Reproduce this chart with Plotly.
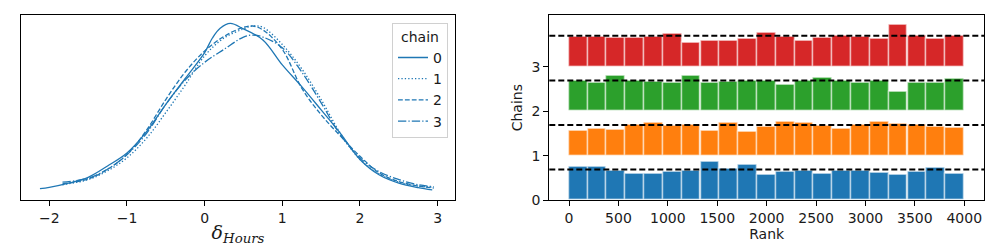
import plotly.graph_objects as go

# ---------------- data: KDE of delta_Hours per chain ----------------
kde_x0 = [-2.12, -2.0, -1.75, -1.5, -1.25, -1.0, -0.75, -0.5, -0.25, 0.0, 0.1, 0.2, 0.33, 0.5,
          0.75, 1.0, 1.25, 1.5, 1.75, 2.0, 2.25, 2.5, 2.75, 2.93]
kde_y0 = [0.010, 0.014, 0.027, 0.045, 0.080, 0.120, 0.185, 0.270, 0.350, 0.430, 0.475, 0.505, 0.520, 0.503,
          0.469, 0.392, 0.325, 0.253, 0.180, 0.100, 0.052, 0.027, 0.013, 0.006]

kde_x = [-1.83, -1.5, -1.25, -1.0, -0.75, -0.5, -0.25, 0.0, 0.25, 0.5, 0.62, 0.75, 1.0, 1.25, 1.5,
         1.75, 2.0, 2.25, 2.5, 2.75, 2.95]
kde_y1 = [0.022, 0.038, 0.065, 0.105, 0.165, 0.245, 0.330, 0.420, 0.475, 0.503, 0.512, 0.508, 0.455,
          0.380, 0.285, 0.180, 0.100, 0.055, 0.030, 0.018, 0.014]
kde_y2 = [0.025, 0.040, 0.070, 0.115, 0.190, 0.285, 0.370, 0.435, 0.480, 0.508, 0.512, 0.500, 0.440,
          0.320, 0.238, 0.172, 0.110, 0.058, 0.032, 0.018, 0.012]
kde_y3 = [0.030, 0.042, 0.070, 0.115, 0.180, 0.270, 0.345, 0.400, 0.440, 0.478, 0.484, 0.478, 0.445,
          0.370, 0.275, 0.175, 0.105, 0.062, 0.038, 0.022, 0.016]

chains = ["0", "1", "2", "3"]

# ---------------- data: rank histogram ----------------
rank_centers = [95, 286, 476, 667, 857, 1048, 1238, 1429, 1619, 1810, 2000,
                2190, 2381, 2571, 2762, 2952, 3143, 3333, 3524, 3714, 3905]
rank_bin_width = 190.5
rank_h0 = [0.749, 0.749, 0.659, 0.591, 0.591, 0.636, 0.659, 0.861, 0.704, 0.793, 0.569,
           0.636, 0.659, 0.591, 0.659, 0.659, 0.614, 0.569, 0.636, 0.726, 0.591]
rank_h1 = [0.546, 0.591, 0.569, 0.681, 0.726, 0.659, 0.681, 0.546, 0.726, 0.524, 0.636,
           0.749, 0.726, 0.659, 0.591, 0.681, 0.749, 0.704, 0.681, 0.636, 0.614]
rank_h2 = [0.674, 0.636, 0.793, 0.689, 0.666, 0.636, 0.793, 0.636, 0.666, 0.681, 0.689,
           0.591, 0.674, 0.749, 0.689, 0.636, 0.674, 0.434, 0.636, 0.636, 0.719]
rank_h3 = [0.666, 0.674, 0.644, 0.644, 0.674, 0.726, 0.524, 0.576, 0.576, 0.621, 0.749,
           0.666, 0.576, 0.644, 0.689, 0.674, 0.621, 0.928, 0.681, 0.621, 0.696]
rank_base = [0, 1, 2, 3]
rank_ref = [0.69, 1.69, 2.69, 3.695]
x_ticks_left = [-2, -1, 0, 1, 2, 3]
x_ticks_right = [0, 500, 1000, 1500, 2000, 2500, 3000, 3500, 4000]
y_ticks_right = [0, 1, 2, 3]

# ---------------- figure ----------------
blue = "#1f77b4"
bar_colors = ["#1f77b4", "#ff7f0e", "#2ca02c", "#d62728"]
dashes = ["solid", "1.3px,2.1px", "4.8px,2.1px", "8.3px,2.1px,1.3px,2.1px"]

fig = go.Figure()
kde_sets = [(kde_x0, kde_y0), (kde_x, kde_y1), (kde_x, kde_y2), (kde_x, kde_y3)]
for name, (xs, ys), dash in zip(chains, kde_sets, dashes):
    fig.add_trace(go.Scatter(x=xs, y=ys, mode="lines", name=name,
                             line=dict(color=blue, width=1.3, dash=dash, shape="spline", smoothing=1.0),
                             xaxis="x", yaxis="y", showlegend=True))

for base, hs, col in zip(rank_base, [rank_h0, rank_h1, rank_h2, rank_h3], bar_colors):
    fig.add_trace(go.Bar(x=rank_centers, y=hs, base=base, width=rank_bin_width,
                         marker=dict(color=col, line=dict(color="rgba(255,255,255,0.5)", width=1.6)),
                         xaxis="x2", yaxis="y2", showlegend=False))

for yv in rank_ref:
    fig.add_shape(type="line", xref="x2 domain", yref="y2", x0=0, x1=1, y0=yv, y1=yv,
                  line=dict(color="black", width=2, dash="6px,3px"))

axis_common = dict(showline=True, linecolor="black", linewidth=1, mirror=True,
                   ticks="outside", ticklen=5, tickwidth=1, tickcolor="black", automargin=False,
                   showgrid=False, zeroline=False, tickfont=dict(size=14, color="#1a1a1a"))

# page body has an 8px margin: figure is 992x242 and domains are offset accordingly
W, H = 992, 242
def dx(px):
    return (px - 8) / W
def dy(py):
    return 1 - (py - 8) / H

fig.update_layout(
    width=W, height=H,
    margin=dict(l=0, r=0, t=0, b=0),
    paper_bgcolor="white", plot_bgcolor="white",
    font=dict(family="DejaVu Sans", size=14, color="#1a1a1a"),
    barmode="overlay", bargap=0,
    xaxis=dict(domain=[dx(20.7), dx(455.3)], range=[-2.368, 3.227], tickvals=x_ticks_left,
               ticktext=["\u22122", "\u22121", "0", "1", "2", "3"],
               title=dict(text="<i>\u03b4</i><sub><i>Hours</i></sub>",
                          font=dict(family="DejaVu Serif", size=19), standoff=0),
               anchor="y", **axis_common),
    yaxis=dict(domain=[dy(200.3), dy(15)], range=[-0.026, 0.546], showticklabels=False,
               anchor="x", **{**axis_common, "ticks": ""}),
    xaxis2=dict(domain=[dx(549.3), dx(984)], range=[-200, 4200], tickvals=x_ticks_right,
                title=dict(text="Rank", font=dict(size=14), standoff=2),
                anchor="y2", **axis_common),
    yaxis2=dict(domain=[dy(200.3), dy(15)], range=[0, 4.16], tickvals=y_ticks_right,
                title=dict(text="Chains", font=dict(size=14), standoff=5),
                anchor="x2", **axis_common),
    legend=dict(x=dx(448), xanchor="right", y=dy(22.7), yanchor="top",
                bgcolor="rgba(255,255,255,0.8)", bordercolor="#d0d0d0", borderwidth=1,
                font=dict(size=14), tracegroupgap=0, itemwidth=30,
                title=dict(text="chain", side="top center", font=dict(size=14))),
)

fig.write_html("out.html")
